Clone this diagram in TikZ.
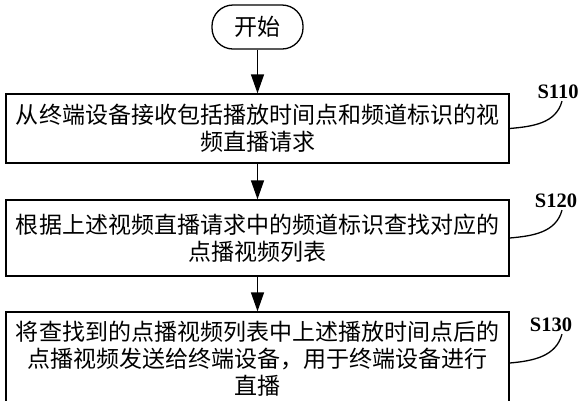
\documentclass[tikz,border=0pt]{standalone}
\usepackage{fontspec}
\usepackage{xcolor}
\usepackage{tikz}
\usetikzlibrary{arrows.meta}
\newfontfamily\cjk{Noto Sans CJK SC}
\newfontfamily\labelfont{Liberation Serif}

\begin{document}
\begin{tikzpicture}[x=1pt, y=1pt,
    stepbox/.style={draw, line width=1.3pt, minimum width=503pt, text width=483pt, align=center, inner xsep=10pt, font=\cjk\fontsize{23}{27}\selectfont},
    startbox/.style={draw, line width=1.3pt, rounded corners=21pt, minimum width=91pt, minimum height=44pt, font=\cjk\fontsize{23}{27}\selectfont},
    steplabel/.style={inner sep=2pt, font=\labelfont\bfseries\fontsize{20.5}{24}\selectfont},
    arr/.style={-{Triangle[length=19pt, width=13pt]}, line width=1.3pt},
    lnk/.style={line width=1.3pt}]
    \useasboundingbox (0,0) rectangle (585,-400);
    \clip (0,0) rectangle (585,-400);
    \node[startbox] (start) at (257.5,-27) {开始};
    \node[stepbox, minimum height=69pt] (s110) at (257.5,-128.5) {从终端设备接收包括播放时间点和频道标识的视\\频直播请求};
    \node[stepbox, minimum height=76pt] (s120) at (257.5,-238) {根据上述视频直播请求中的频道标识查找对应的\\点播视频列表};
    \node[stepbox, minimum height=94pt] (s130) at (257.5,-359) {将查找到的点播视频列表中上述播放时间点后的\\点播视频发送给终端设备，用于终端设备进行\\直播};
    \node[steplabel] (l110) at (558,-92) {S110};
    \node[steplabel] (l120) at (556,-201) {S120};
    \node[steplabel] (l130) at (551,-325) {S130};
    \draw[arr] (start) -- (s110);
    \draw[arr] (s110) -- (s120);
    \draw[arr] (s120) -- (s130);
    \draw[lnk] (s110.east) to[out=5, in=-105] ([xshift=4pt]l110.south);
    \draw[lnk] (s120.east) to[out=5, in=-105] ([xshift=6pt]l120.south);
    \draw[lnk] ([yshift=-4pt]s130.east) to[out=5, in=-105] ([xshift=11pt]l130.south);
\end{tikzpicture}
\end{document}
